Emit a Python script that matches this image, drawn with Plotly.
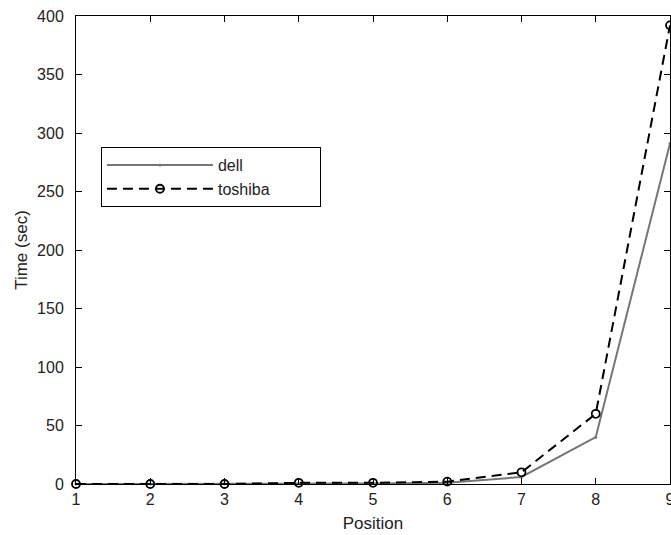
import plotly.graph_objects as go

positions = [1, 2, 3, 4, 5, 6, 7, 8, 9]
dell_time = [0, 0, 0, 0.5, 0.5, 1, 6, 40, 291]
toshiba_time = [0, 0, 0, 1, 1, 2, 10, 60, 392]
x_ticks = [1, 2, 3, 4, 5, 6, 7, 8, 9]
y_ticks = [0, 50, 100, 150, 200, 250, 300, 350, 400]
series_names = ["dell", "toshiba"]

font_family = "Liberation Sans, Arial, sans-serif"
pad = "\u00a0" * 10  # widens the legend box like the reference

fig = go.Figure()
fig.add_trace(go.Scatter(
    x=positions, y=dell_time, name=series_names[0] + pad, mode="lines+markers",
    line=dict(color="#767676", width=2),
    marker=dict(symbol="circle", size=3, color="#767676"),
    cliponaxis=False,
))
fig.add_trace(go.Scatter(
    x=positions, y=toshiba_time, name=series_names[1] + pad, mode="lines+markers",
    line=dict(color="black", width=2, dash="10px,6px"),
    marker=dict(symbol="circle-open", size=8, color="black", line=dict(width=1.8)),
    cliponaxis=False,
))

axis_common = dict(
    showline=True, linecolor="black", linewidth=1, mirror="ticks",
    ticks="inside", ticklen=6, tickcolor="black", tickwidth=1,
    showgrid=False, zeroline=False, automargin=False,
    ticklabeloverflow="allow",
    tickfont=dict(family=font_family, size=16, color="#222"),
)

fig.update_layout(
    width=671, height=535,
    margin=dict(l=76, r=1, t=16, b=51),
    paper_bgcolor="white", plot_bgcolor="white",
    font=dict(family=font_family, size=16, color="#222"),
    showlegend=True,
    legend=dict(
        x=0.042, y=0.72, xanchor="left", yanchor="top",
        bordercolor="black", borderwidth=1, bgcolor="white",
        font=dict(family=font_family, size=16, color="#222"),
        itemwidth=106, tracegroupgap=0,
    ),
    xaxis=dict(
        range=[1, 9], tickmode="array", tickvals=x_ticks,
        ticklabelstandoff=1,
        title=dict(text="Position", standoff=9,
                   font=dict(family=font_family, size=17, color="#222")),
        **axis_common,
    ),
    yaxis=dict(
        range=[0, 400], tickmode="array", tickvals=y_ticks,
        ticklabelstandoff=8,
        title=dict(text="Time (sec)", standoff=5,
                   font=dict(family=font_family, size=17, color="#222")),
        **axis_common,
    ),
)

fig.write_html(
    "out.html",
    config={"displayModeBar": False},
    post_script="document.body.style.margin='0';document.body.style.overflow='hidden';",
)
